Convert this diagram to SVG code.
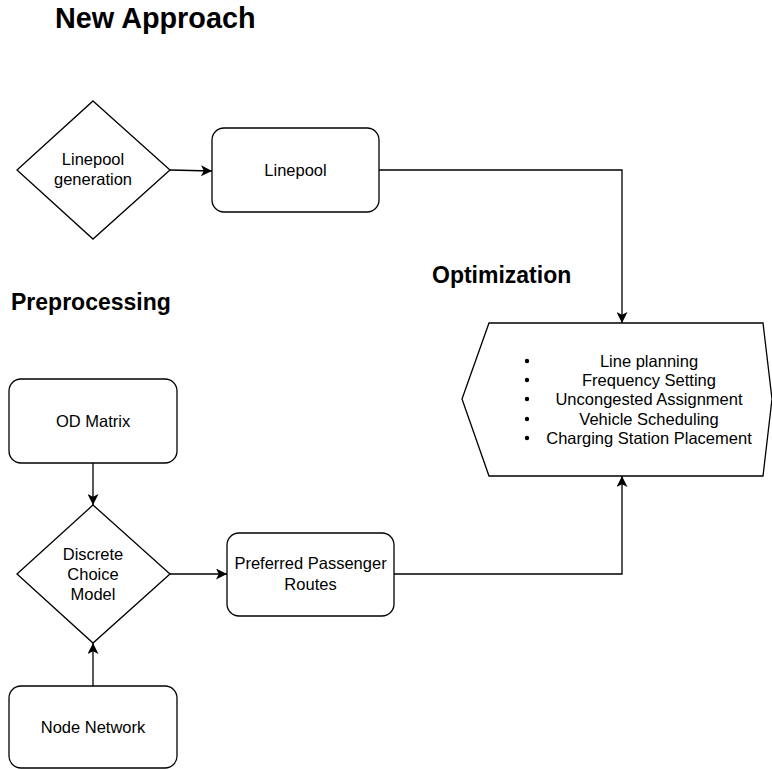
<svg xmlns="http://www.w3.org/2000/svg" width="772" height="769" viewBox="0 0 772 769">
<defs>
<marker id="arr" viewBox="0 0 10 10" refX="10" refY="5" markerWidth="11" markerHeight="11" markerUnits="userSpaceOnUse" orient="auto">
<path d="M0,0 L10,5 L0,10 L2.5,5 Z" fill="#000"/>
</marker>
<style>
.shape{fill:#fff;stroke:#000;stroke-width:1.3}
.lbl{font-family:"Liberation Sans",Arial,sans-serif;font-size:16.5px;fill:#000;text-anchor:middle}
.title{font-family:"Liberation Sans",Arial,sans-serif;font-weight:bold;fill:#000}
.edge{fill:none;stroke:#000;stroke-width:1.3;marker-end:url(#arr)}
</style>
</defs>
<rect width="772" height="769" fill="#fff"/>
<text class="title" x="55" y="28" font-size="28.8">New Approach</text>
<text class="title" x="11" y="310" font-size="23">Preprocessing</text>
<text class="title" x="432" y="283" font-size="23">Optimization</text>
<g id="edges">
<path class="edge" d="M170,170 L212,171"/>
<path class="edge" d="M379,170 L622,170 L622,323"/>
<path class="edge" d="M93,463 L93,505"/>
<path class="edge" d="M93,686 L93,643"/>
<path class="edge" d="M170,574 L227,574"/>
<path class="edge" d="M394,574 L622,574 L622,476"/>
</g>
<g id="linepool-generation">
<polygon class="shape" points="93,101 170,170 93,239 17,170"/>
<text class="lbl" x="93" y="165">Linepool</text>
<text class="lbl" x="93" y="185">generation</text>
</g>
<g id="linepool">
<rect class="shape" x="212" y="128" width="167" height="84" rx="12"/>
<text class="lbl" x="295.5" y="176">Linepool</text>
</g>
<g id="optimization">
<polygon class="shape" points="489,323 763,323 772,399 763,476 489,476 462,399"/>
<text class="lbl" x="649" y="367">Line planning</text>
<text class="lbl" x="649" y="386">Frequency Setting</text>
<text class="lbl" x="649" y="405">Uncongested Assignment</text>
<text class="lbl" x="649" y="425">Vehicle Scheduling</text>
<text class="lbl" x="649" y="444">Charging Station Placement</text>
<circle cx="527" cy="361" r="2.2"/>
<circle cx="527" cy="380" r="2.2"/>
<circle cx="527" cy="399" r="2.2"/>
<circle cx="527" cy="419" r="2.2"/>
<circle cx="527" cy="438" r="2.2"/>
</g>
<g id="od-matrix">
<rect class="shape" x="9" y="379" width="168" height="84" rx="12"/>
<text class="lbl" x="93" y="427">OD Matrix</text>
</g>
<g id="discrete-choice-model">
<polygon class="shape" points="93,505 170,574 93,643 17,574"/>
<text class="lbl" x="93" y="560">Discrete</text>
<text class="lbl" x="93" y="580">Choice</text>
<text class="lbl" x="93" y="600">Model</text>
</g>
<g id="preferred-passenger-routes">
<rect class="shape" x="227" y="533" width="167" height="83" rx="12"/>
<text class="lbl" x="310.5" y="569">Preferred Passenger</text>
<text class="lbl" x="310.5" y="590">Routes</text>
</g>
<g id="node-network">
<rect class="shape" x="9" y="686" width="168" height="82" rx="12"/>
<text class="lbl" x="93" y="733">Node Network</text>
</g>
</svg>
